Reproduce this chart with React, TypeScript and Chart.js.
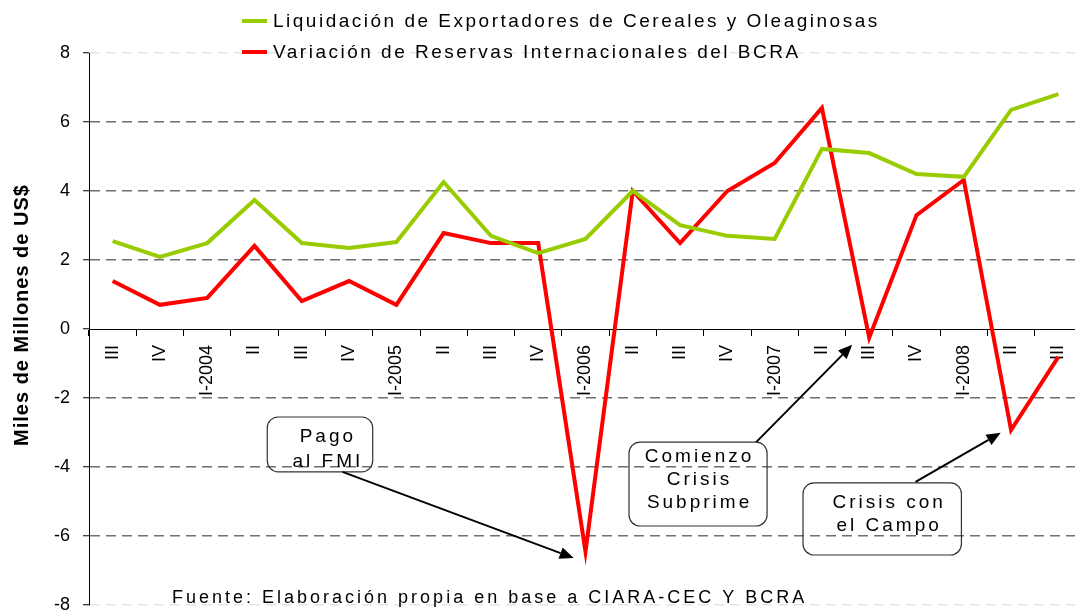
import React, { useEffect, useRef } from 'react';
import { Chart, registerables } from 'chart.js';

Chart.register(...registerables);

// ---- Data ----
const categories = ['III', 'IV', 'I-2004', 'II', 'III', 'IV', 'I-2005', 'II', 'III', 'IV', 'I-2006', 'II', 'III', 'IV', 'I-2007', 'II', 'III', 'IV', 'I-2008', 'II', 'III'];
const liquidacion = [2.55, 2.09, 2.49, 3.74, 2.49, 2.35, 2.52, 4.26, 2.7, 2.2, 2.61, 4.0, 3.01, 2.7, 2.61, 5.22, 5.1, 4.49, 4.41, 6.35, 6.81];
const reservas = [1.39, 0.7, 0.9, 2.41, 0.81, 1.39, 0.7, 2.78, 2.49, 2.49, -6.45, 4.0, 2.49, 4.0, 4.81, 6.41, -0.25, 3.3, 4.32, -2.93, -0.81];
const seriesNames = ['Liquidación de Exportadores de Cereales y Oleaginosas', 'Variación de Reservas Internacionales del BCRA'];
const seriesColors = ['#99CC00', '#FF0000'];
const yMin = -8;
const yMax = 8;
const yStep = 2;
const yAxisTitle = 'Miles de Millones de US$';
const sourceNote = 'Fuente: Elaboración propia en base a CIARA-CEC Y BCRA';

// Callout notes, anchored in data space (category index, value)
const noteTexts = [['Pago', 'al FMI'], ['Comienzo', 'Crisis', 'Subprime'], ['Crisis con', 'el Campo']];
const noteBoxes = [[3.27, 5.5, -2.55, -4.14], [10.92, 13.84, -3.28, -5.71], [14.6, 17.95, -4.46, -6.55]];
const noteTextAnchors = [[4.52, -3.13, 25], [12.38, -3.71, 23], [16.39, -5.04, 23]];
const noteArrows = [[4.86, -4.14, 9.75, -6.64], [13.61, -3.28, 15.64, -0.46], [16.98, -4.43, 18.78, -3.01]];

const FONT = "'Liberation Sans', Arial, Helvetica, sans-serif";

function drawArrow(ctx: CanvasRenderingContext2D, x1: number, y1: number, x2: number, y2: number) {
  const ang = Math.atan2(y2 - y1, x2 - x1);
  const hl = 14;
  const hw = 6;
  const bx = x2 - hl * Math.cos(ang);
  const by = y2 - hl * Math.sin(ang);
  ctx.beginPath();
  ctx.moveTo(x1, y1);
  ctx.lineTo(bx, by);
  ctx.stroke();
  ctx.beginPath();
  ctx.moveTo(x2, y2);
  ctx.lineTo(bx + hw * Math.sin(ang), by - hw * Math.cos(ang));
  ctx.lineTo(bx - hw * Math.sin(ang), by + hw * Math.cos(ang));
  ctx.closePath();
  ctx.fill();
}

const overlayPlugin = {
  id: 'overlay',
  afterDraw(chart: any) {
    const ctx: CanvasRenderingContext2D = chart.ctx;
    const xs = chart.scales.x;
    const ys = chart.scales.y;
    ctx.save();

    // Legend (stacked, left aligned)
    ctx.font = `19px ${FONT}`;
    (ctx as any).letterSpacing = '2.5px';
    ctx.textBaseline = 'middle';
    ctx.textAlign = 'left';
    const legendRows = [21, 52];
    seriesNames.forEach((name, i) => {
      ctx.strokeStyle = seriesColors[i];
      ctx.lineWidth = 4;
      ctx.beginPath();
      ctx.moveTo(242, legendRows[i]);
      ctx.lineTo(267, legendRows[i]);
      ctx.stroke();
      ctx.fillStyle = '#000';
      ctx.fillText(name, 273, legendRows[i] + 1);
    });

    // Y axis title
    ctx.save();
    ctx.translate(22, 315);
    ctx.rotate(-Math.PI / 2);
    ctx.font = `bold 20px ${FONT}`;
    (ctx as any).letterSpacing = '1px';
    ctx.textAlign = 'center';
    ctx.textBaseline = 'middle';
    ctx.fillStyle = '#000';
    ctx.fillText(yAxisTitle, 0, 0);
    ctx.restore();

    // Source note
    ctx.font = `18px ${FONT}`;
    (ctx as any).letterSpacing = '3px';
    ctx.textAlign = 'left';
    ctx.textBaseline = 'middle';
    ctx.fillStyle = '#000';
    ctx.fillText(sourceNote, 172, 598);

    // Callouts
    noteTexts.forEach((lines, i) => {
      const [a, b, c, d] = noteBoxes[i];
      const x1 = xs.getPixelForValue(a);
      const x2 = xs.getPixelForValue(b);
      const y1 = ys.getPixelForValue(c);
      const y2 = ys.getPixelForValue(d);
      ctx.strokeStyle = '#333';
      ctx.lineWidth = 1.2;
      ctx.beginPath();
      (ctx as any).roundRect(x1, y1, x2 - x1, y2 - y1, 11);
      ctx.stroke();

      const [tx, ty, gap] = noteTextAnchors[i];
      const px = xs.getPixelForValue(tx);
      const py = ys.getPixelForValue(ty);
      ctx.font = `19px ${FONT}`;
      (ctx as any).letterSpacing = '3px';
      ctx.textAlign = 'center';
      ctx.textBaseline = 'middle';
      ctx.fillStyle = '#000';
      lines.forEach((ln, k) => ctx.fillText(ln, px + 1.5, py + k * gap));

      const [ax, ay, bx, by] = noteArrows[i];
      ctx.strokeStyle = '#000';
      ctx.fillStyle = '#000';
      ctx.lineWidth = 2;
      drawArrow(ctx, xs.getPixelForValue(ax), ys.getPixelForValue(ay), xs.getPixelForValue(bx), ys.getPixelForValue(by));
    });

    ctx.restore();
  },
};

export default function App() {
  const ref = useRef<HTMLCanvasElement | null>(null);

  useEffect(() => {
    if (!ref.current) return;
    const chart = new Chart(ref.current, {
      type: 'line',
      data: {
        labels: categories,
        datasets: [
          {
            label: seriesNames[0],
            data: liquidacion,
            borderColor: seriesColors[0],
            backgroundColor: seriesColors[0],
            borderWidth: 4,
            pointRadius: 0,
            tension: 0,
            fill: false,
          },
          {
            label: seriesNames[1],
            data: reservas,
            borderColor: seriesColors[1],
            backgroundColor: seriesColors[1],
            borderWidth: 4,
            pointRadius: 0,
            tension: 0,
            fill: false,
          },
        ],
      },
      options: {
        responsive: false,
        animation: false,
        devicePixelRatio: 1,
        layout: { padding: { left: 0, right: 1, top: 53, bottom: 7 } },
        plugins: {
          legend: { display: false },
          tooltip: { enabled: false },
          title: { display: false },
        },
        scales: {
          x: {
            type: 'category',
            position: { y: 0 } as any,
            offset: true,
            grid: {
              display: true,
              drawOnChartArea: false,
              drawTicks: true,
              tickLength: 6,
              tickColor: '#000',
              offset: true,
            },
            border: { display: true, color: '#000', width: 1 },
            ticks: {
              autoSkip: false,
              maxRotation: 90,
              minRotation: 90,
              padding: 10,
              color: '#000',
              font: { family: FONT, size: 18 },
            },
            afterFit: (s: any) => {
              s.height = 0;
              s.paddingLeft = 0;
              s.paddingRight = 0;
            },
          },
          y: {
            type: 'linear',
            min: yMin,
            max: yMax,
            ticks: {
              stepSize: yStep,
              padding: 13,
              color: '#000',
              font: { family: FONT, size: 18 },
            },
            grid: {
              color: (c: any) => {
                const v = c.tick ? c.tick.value : null;
                if (v === 0) return 'rgba(0,0,0,0)';
                if (v === yMax || v === yMin) return '#e4e4e4';
                return '#6f6f6f';
              },
              lineWidth: 1.5,
              tickLength: 6,
              tickColor: '#000',
              tickWidth: 1,
            },
            border: { display: true, color: '#000', width: 1, dash: [10, 6] },
            afterFit: (s: any) => {
              s.width = 89;
              s.paddingTop = 0;
              s.paddingBottom = 0;
            },
          },
        },
      },
      plugins: [overlayPlugin],
    } as any);
    return () => chart.destroy();
  }, []);

  return (
    <div style={{ position: 'fixed', left: 0, top: 0, width: 1075, height: 612, overflow: 'hidden', background: '#fff' }}>
      <canvas ref={ref} width={1083} height={612} style={{ display: 'block' }} />
    </div>
  );
}
